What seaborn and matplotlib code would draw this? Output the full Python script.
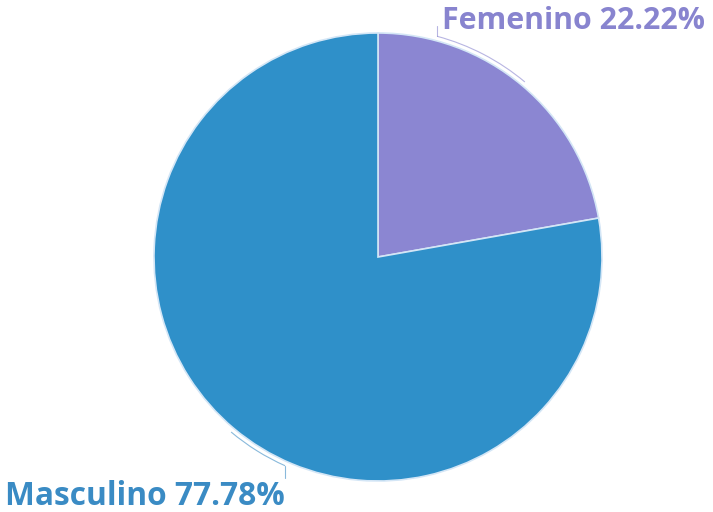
import numpy as np
import matplotlib
matplotlib.use("Agg")
import matplotlib.pyplot as plt
import seaborn as sns
from matplotlib.patches import Arc

# Data
labels = ["Femenino", "Masculino"]
shares = [22.22, 77.78]
slice_colors = ["#8b86d2", "#2f90c9"]
text_colors = ["#8884cf", "#3a8bc4"]

sns.set_theme(style="white")
plt.rcParams['font.family'] = ['Open Sans', 'DejaVu Sans']

W, H, R_PX = 713, 512, 224
CX, CY = 378, 257  # pie centre in pixels (from top-left)

fig = plt.figure(figsize=(W / 100, H / 100), dpi=100)
ax = fig.add_axes([0, 0, 1, 1])

wedges, _ = ax.pie(shares, colors=slice_colors, startangle=90, counterclock=False,
                   wedgeprops=dict(edgecolor="#d4e6f6", linewidth=1.2))

# map 1 data unit = R_PX pixels
ax.set_xlim(-CX / R_PX, (W - CX) / R_PX)
ax.set_ylim(-(H - CY) / R_PX, CY / R_PX)
ax.set_aspect('auto')
ax.axis('off')

# connectors: arc from slice middle towards the label, then a short tick
r_arc = 1.02
arc_span = [25, 16]        # degrees, direction toward label
tick_len = [0.045, -0.055]
label_pos = [(0.285, 1.055), (-1.665, -1.07)]
label_size = [21.8, 22.8]

for i, w in enumerate(wedges):
    mid = (w.theta1 + w.theta2) / 2
    a0, a1 = mid, mid + arc_span[i]
    ax.add_patch(Arc((0, 0), 2 * r_arc, 2 * r_arc, theta1=min(a0, a1), theta2=max(a0, a1),
                     color=text_colors[i], lw=0.8, alpha=0.6))
    ex = r_arc * np.cos(np.radians(a1))
    ey = r_arc * np.sin(np.radians(a1))
    ax.plot([ex, ex], [ey, ey + tick_len[i]], color=text_colors[i], lw=0.8, alpha=0.6)
    ax.text(label_pos[i][0], label_pos[i][1], f"{labels[i]} {shares[i]:.2f}%",
            color=text_colors[i], fontsize=label_size[i], fontweight='bold', ha='left', va='center')

plt.savefig("out.png", dpi=100)
